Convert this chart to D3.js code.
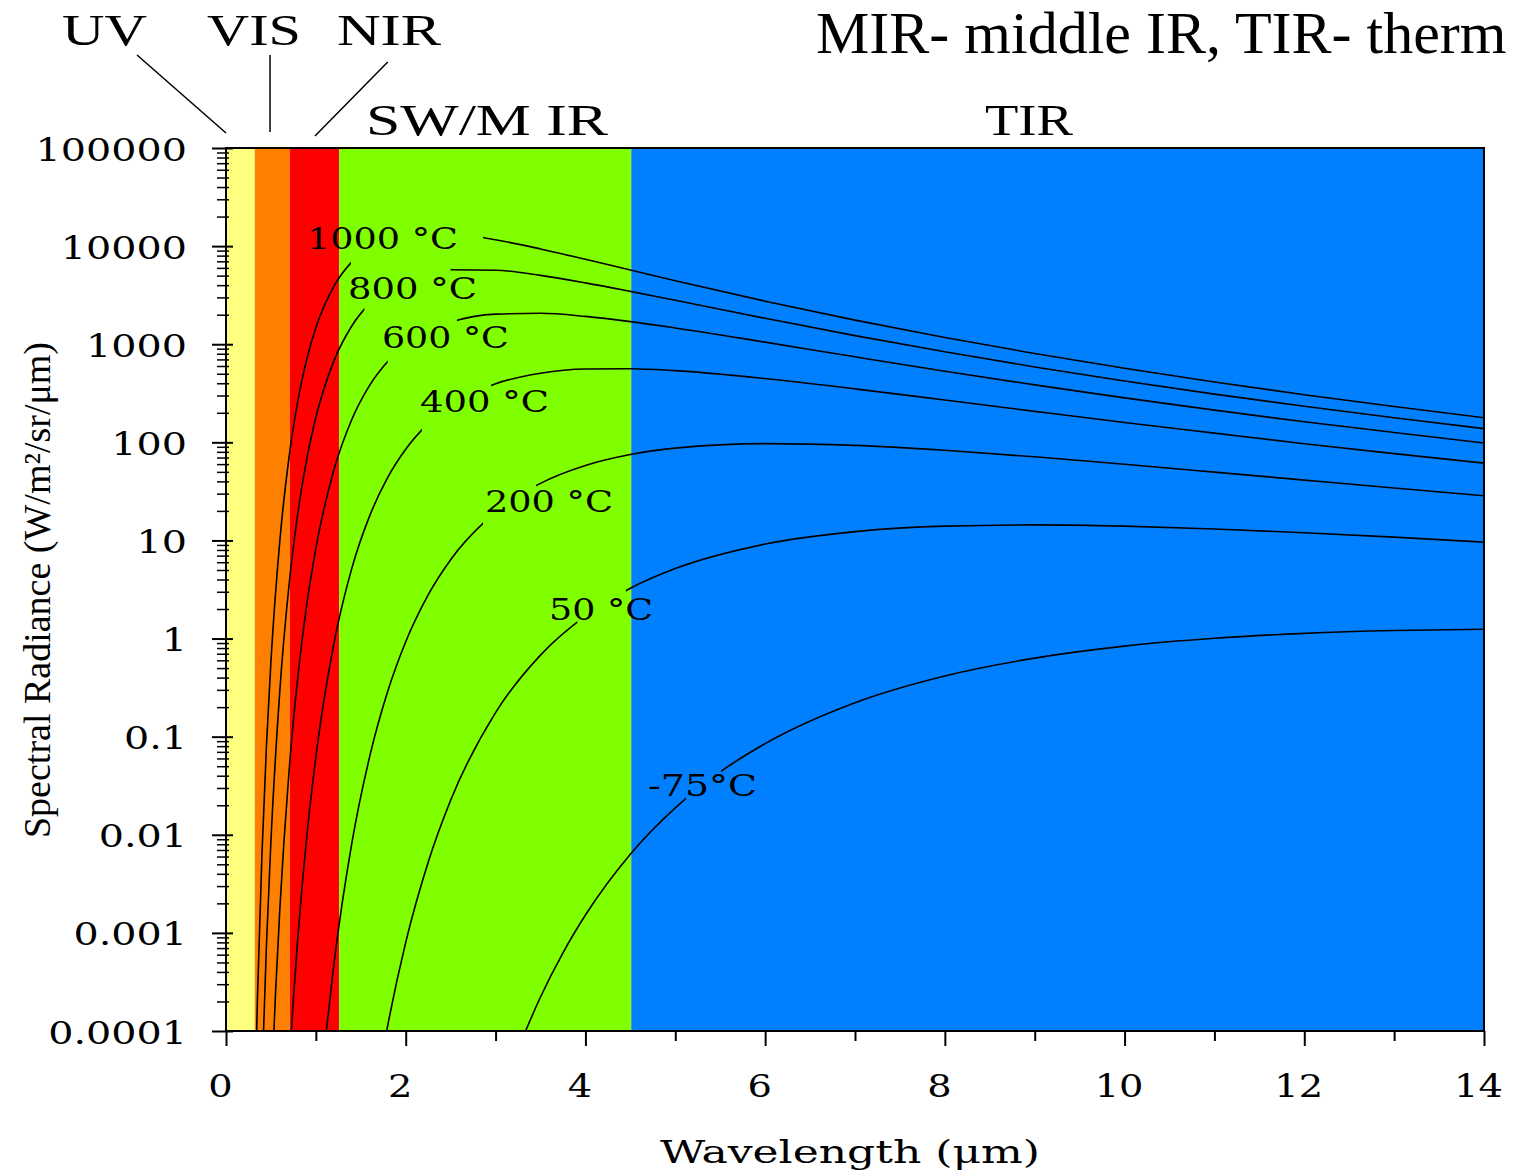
<!DOCTYPE html>
<html><head><meta charset="utf-8">
<script src="https://cdn.jsdelivr.net/npm/d3@7"></script>
<style>html,body{margin:0;padding:0;background:#fff;overflow:hidden}</style>
</head><body><svg id="c" width="1516" height="1175"></svg>
<script>
// ---------------- data ----------------
const bandNames  = ["UV", "VIS", "NIR", "SW/M IR", "TIR"];
const bandEdges  = [0, 0.32, 0.71, 1.26, 4.51, 14];          // µm
const bandColors = ["#FFFF80", "#FF8000", "#FF0000", "#80FF00", "#0080FF"];

const seriesNames = ["1000 °C", "800 °C", "600 °C", "400 °C", "200 °C", "50 °C", "-75°C"];

const lam1000 = [0.32,0.35,0.4,0.45,0.5,0.6,0.7,0.8,0.9,1.0,1.2,1.4,1.6,1.8,2.0,2.25,2.5,3.0,3.5,4.0,4.5,5.0,6,7,8,9,10,11,12,13,14];
const rad1000 = [1.63e-5,2.15e-4,6.25e-3,0.0802,0.582,10.1,69.1,266,710,1471,3888,6914,9733,11857,13124,13694,13420,11600,9353,7333,5701,4440,2746,1760,1170,804,568,412,306,232,178];

const lam800 = [0.4,0.45,0.5,0.6,0.7,0.8,0.9,1.0,1.2,1.4,1.6,1.8,2.0,2.25,2.5,3.0,3.5,4.0,4.5,5.0,6,7,8,9,10,11,12,13,14];
const rad800 = [3.22e-5,7.43e-4,8.63e-3,0.303,3.41,19.2,68.4,179,673,1535,2607,3673,4572,5344,5742,5680,5030,4221,3456,2801,1836,1224,837,587,422,310,233,178,138];

const lam600 = [0.5,0.55,0.6,0.7,0.8,0.9,1.0,1.2,1.4,1.6,1.8,2.0,2.25,2.5,3.0,3.5,4.0,4.5,5.0,6,7,8,9,10,11,12,13,14];
const rad600 = [1.86e-5,2.31e-4,1.81e-3,0.0424,0.412,2.26,8.31,52.0,171,383,667,983,1363,1676,2026,2066,1921,1701,1466,1050,744,531,385,284,213,162,126,98.6];

const lam400 = [0.7,0.75,0.8,0.9,1.0,1.2,1.4,1.6,1.8,2.0,2.25,2.5,3.0,3.5,4.0,4.5,5.0,6,7,8,9,10,11,12,13,14];
const rad400 = [3.89e-5,2.11e-4,9.06e-4,9.79e-3,0.0622,0.880,5.19,17.9,43.9,85.0,155,236,395,506,559,563,538,447,351,270,207,159,124,96.9,76.8,61.4];

const lam200 = [1.1,1.2,1.4,1.6,1.8,2.0,2.25,2.5,3.0,3.5,4.0,4.5,5.0,6,7,8,9,10,11,12,13,14];
const rad200 = [7.29e-5,4.73e-4,8.17e-3,0.0633,0.290,0.928,2.79,6.36,19.4,38.2,58.1,75.1,87.3,97.0,93.2,83.1,71.2,59.8,49.7,41.2,34.2,28.5];

const lam50 = [1.75,1.8,2.0,2.25,2.5,3.0,3.5,4.0,4.5,5.0,6,7,8,9,10,11,12,13,14];
const rad50 = [6.48e-5,1.14e-4,8.0e-4,5.26e-3,0.0225,0.176,0.678,1.70,3.26,5.17,9.18,12.3,14.0,14.4,14.0,13.1,12.0,10.8,9.60];

const lamM75 = [3.3,3.5,3.75,4.0,4.5,5.0,5.5,6,7,8,9,10,11,12,13,14];
const radM75 = [8.46e-5,2.22e-4,6.26e-4,1.52e-3,6.34e-3,0.0188,0.0437,0.085,0.222,0.416,0.632,0.837,1.006,1.130,1.208,1.245];

const seriesLam = [lam1000, lam800, lam600, lam400, lam200, lam50, lamM75];
const seriesRad = [rad1000, rad800, rad600, rad400, rad200, rad50, radM75];

const xTicksMajor = [0, 2, 4, 6, 8, 10, 12, 14];
const xTicksMinor = [1, 3, 5, 7, 9, 11, 13];
const yTicks      = [1e5, 1e4, 1e3, 1e2, 10, 1, 0.1, 0.01, 0.001, 0.0001];
const yTickLabels = ["100000", "10000", "1000", "100", "10", "1", "0.1", "0.01", "0.001", "0.0001"];

// label annotations (in data units): gap in curve, label left/right edge, label baseline
const gapFrom   = [1.39, 1.54, 1.80, 2.18, 2.86, 3.91, 5.12];
const gapTo     = [2.86, 2.50, 2.57, 2.95, 3.45, 4.45, 5.51];
const labLeft   = [0.901, 1.358, 1.736, 2.159, 2.882, 3.595, 4.696];
const labRight  = [2.581, 2.794, 3.149, 3.595, 4.307, 4.752, 5.909];
const labBase   = [9340, 2890, 915, 204, 19.5, 1.55, 0.0248];

// ---------------- layout ----------------
const svg = d3.select("#c");
const L = 226, R = 1484, T = 148, B = 1031;
const x = d3.scaleLinear().domain([0, 14]).range([L, R]);
const y = d3.scaleLog().domain([1e-4, 1e5]).range([B, T]);

// bands
svg.append("g").selectAll("rect").data(bandColors).join("rect")
  .attr("x", (d, i) => x(bandEdges[i]))
  .attr("y", T)
  .attr("width", (d, i) => x(bandEdges[i + 1]) - x(bandEdges[i]))
  .attr("height", B - T)
  .attr("fill", d => d);

// clip paths per curve (plot area minus label gap)
const defs = svg.append("defs");
seriesNames.forEach((s, i) => {
  const cp = defs.append("clipPath").attr("id", "clip" + i);
  cp.append("rect").attr("x", L).attr("y", T).attr("width", x(gapFrom[i]) - L).attr("height", B - T);
  cp.append("rect").attr("x", x(gapTo[i])).attr("y", T).attr("width", R - x(gapTo[i])).attr("height", B - T);
});

const line = d3.line().x(d => x(d[0])).y(d => y(d[1])).curve(d3.curveMonotoneX);
const gc = svg.append("g");
seriesNames.forEach((s, i) => {
  const pts = seriesLam[i].map((l, j) => [l, seriesRad[i][j]]);
  gc.append("path").attr("d", line(pts))
    .attr("clip-path", `url(#clip${i})`)
    .attr("fill", "none").attr("stroke", "#000").attr("stroke-width", 1.6);
});

// curve labels
svg.append("g").selectAll("text").data(seriesNames).join("text")
  .attr("x", (d, i) => x(labLeft[i]))
  .attr("y", (d, i) => y(labBase[i]))
  .attr("textLength", (d, i) => x(labRight[i]) - x(labLeft[i]))
  .attr("lengthAdjust", "spacingAndGlyphs")
  .attr("font-family", "DejaVu Serif").attr("font-size", 30).attr("fill", "#000")
  .text(d => d);

// frame
svg.append("rect").attr("x", L).attr("y", T).attr("width", R - L).attr("height", B - T)
  .attr("fill", "none").attr("stroke", "#000").attr("stroke-width", 2);

// x axis
const gx = svg.append("g").attr("transform", `translate(0,${B})`)
  .call(d3.axisBottom(x).tickValues(xTicksMajor).tickSize(15).tickFormat(d3.format("d")));
gx.select(".domain").remove();
gx.selectAll(".tick line").attr("stroke", "#000").attr("stroke-width", 2);
gx.selectAll(".tick text")
  .attr("y", null).attr("dy", null)
  .attr("transform", "translate(-6,66) scale(1.2,1)")
  .attr("font-family", "DejaVu Serif").attr("font-size", 32).attr("fill", "#000")
  .attr("text-anchor", "middle");
const gxm = svg.append("g").attr("transform", `translate(0,${B})`)
  .call(d3.axisBottom(x).tickValues(xTicksMinor).tickSize(10).tickFormat(""));
gxm.select(".domain").remove();
gxm.selectAll(".tick line").attr("stroke", "#000").attr("stroke-width", 2);

// y axis
const gy = svg.append("g").attr("transform", `translate(${L},0)`)
  .call(d3.axisLeft(y).tickValues(yTicks).tickSize(14).tickFormat((d, i) => yTickLabels[i]));
gy.select(".domain").remove();
gy.selectAll(".tick line").attr("x1", 7).attr("stroke", "#000").attr("stroke-width", 2);
gy.selectAll(".tick text")
  .attr("x", null).attr("dy", null)
  .attr("transform", "translate(-39,12) scale(1.24,1)")
  .attr("font-family", "DejaVu Serif").attr("font-size", 32).attr("fill", "#000")
  .attr("text-anchor", "end");
const yMinor = [];
for (let k = -4; k < 5; k++) for (let m = 2; m <= 9; m++) yMinor.push(m * Math.pow(10, k));
const gym = svg.append("g").attr("transform", `translate(${L},0)`)
  .call(d3.axisLeft(y).tickValues(yMinor).tickSize(9).tickFormat(""));
gym.select(".domain").remove();
gym.selectAll(".tick line").attr("x1", 3).attr("stroke", "#000").attr("stroke-width", 1.5);

// axis titles
svg.append("text").attr("x", 660).attr("y", 1163)
  .attr("textLength", 380).attr("lengthAdjust", "spacingAndGlyphs")
  .attr("font-family", "DejaVu Serif").attr("font-size", 31).attr("fill", "#000")
  .text("Wavelength (μm)");
svg.append("text").attr("transform", "translate(50,590) rotate(-90)")
  .attr("text-anchor", "middle")
  .attr("font-family", "Liberation Serif").attr("font-size", 38).attr("fill", "#000")
  .text("Spectral Radiance (W/m²/sr/μm)");

// band labels & leader lines
const bandLabelX   = [62, 207, 337, 366, 985];
const bandLabelW   = [85, 94, 104, 242, 88];
const bandLabelY   = [45, 45, 45, 135, 135];
svg.append("g").selectAll("text").data(bandNames).join("text")
  .attr("x", (d, i) => bandLabelX[i]).attr("y", (d, i) => bandLabelY[i])
  .attr("textLength", (d, i) => bandLabelW[i]).attr("lengthAdjust", "spacingAndGlyphs")
  .attr("font-family", "Liberation Serif").attr("font-size", 45).attr("fill", "#000")
  .text(d => d);
const leaderTop = [-0.99, 0.49, 1.8];
const leaderBot = [0.0, 0.49, 0.99];
const leaderTopY = [55, 55, 62];
const leaderBotY = [133, 132, 136];
svg.append("g").selectAll("line").data(leaderTop).join("line")
  .attr("x1", (d, i) => x(leaderTop[i])).attr("y1", (d, i) => leaderTopY[i])
  .attr("x2", (d, i) => x(leaderBot[i])).attr("y2", (d, i) => leaderBotY[i])
  .attr("stroke", "#000").attr("stroke-width", 1.5);

// slide title (as visible in the reference, which is cut at the right edge)
svg.append("text").attr("x", 816).attr("y", 53)
  .attr("font-family", "Liberation Serif").attr("font-size", 60).attr("fill", "#000")
  .text("MIR- middle IR, TIR- therm");
</script>
</body></html>
